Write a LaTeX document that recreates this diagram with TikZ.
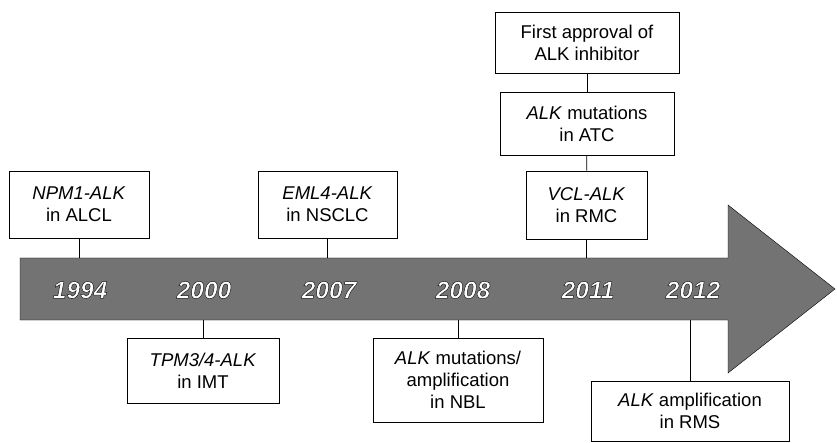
\documentclass[tikz,border=0pt]{standalone}
\usepackage{fontspec}
\setmainfont{Liberation Sans}
\usetikzlibrary{positioning}

% white year with a dark outline (fill+stroke text render mode)
\newcommand{\yrshadow}[1]{%
  \color{white}\special{pdf:code q 2 Tr 0.5 w 0.1 G}#1\special{pdf:code Q}}

\begin{document}
\begin{tikzpicture}[x=1pt, y=-1pt,
    evt/.style={
        draw, thick, fill=white, align=center, inner sep=0pt,
        font=\fontsize{18.5}{22}\selectfont
    },
    yr/.style={font=\fontsize{24.5}{26}\selectfont\bfseries\itshape, inner sep=0pt},
    link/.style={thick}
]
\useasboundingbox (0,0) rectangle (837,443);

% timeline arrow
\draw[fill=black!55] (20,258) -- (728,258) -- (728,205) -- (835,289)
    -- (728,373) -- (728,320) -- (20,320) -- cycle;
\coordinate (bartop) at (20,258);
\coordinate (barbot) at (20,320);

\node[yr] (y1994) at (80,290)  {\yrshadow{1994}};
\node[yr] (y2000) at (204,290) {\yrshadow{2000}};
\node[yr] (y2007) at (329,290) {\yrshadow{2007}};
\node[yr] (y2008) at (463,290) {\yrshadow{2008}};
\node[yr] (y2011) at (588,290) {\yrshadow{2011}};
\node[yr] (y2012) at (693,290) {\yrshadow{2012}};

% events above
\node[evt, minimum width=140, minimum height=67] (alcl) at (79,204.5) {\textit{NPM1-ALK}\\in ALCL};
\node[evt, minimum width=139, minimum height=67] (nsclc) at (327.5,204.5) {\textit{EML4-ALK}\\in NSCLC};
\node[evt, minimum width=121, minimum height=68] (rmc) at (586.5,205) {\textit{VCL-ALK}\\in RMC};
\node[evt, minimum width=174, minimum height=63] (atc) at (587,123.5) {\textit{ALK} mutations\\in ATC};
\node[evt, minimum width=184, minimum height=61] (appr) at (587,42.5) {First approval of\\ALK inhibitor};

% events below
\node[evt, minimum width=152, minimum height=65] (imt) at (203,370.5) {\textit{TPM3/4-ALK}\\in IMT};
\node[evt, minimum width=170, minimum height=84] (nbl) at (458,380) {\textit{ALK} mutations/\\amplification\\in NBL};
\node[evt, minimum width=198, minimum height=60] (rms) at (690,411) {\textit{ALK} amplification\\in RMS};

\draw[link] (alcl.south) -- (alcl.south |- bartop);
\draw[link] (nsclc.south) -- (nsclc.south |- bartop);
\draw[link] (rmc.south) -- (rmc.south |- bartop);
\draw[link] (atc) -- (rmc);
\draw[link] (appr) -- (atc);
\draw[link] (imt.north) -- (imt.north |- barbot);
\draw[link] (nbl.north) -- (nbl.north |- barbot);
\draw[link] (rms.north) -- (rms.north |- barbot);

\end{tikzpicture}
\end{document}
